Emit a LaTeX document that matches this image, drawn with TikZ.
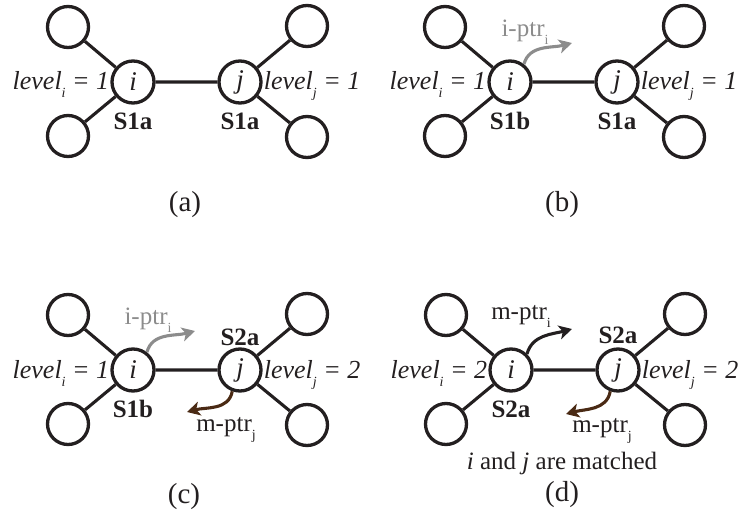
\documentclass[tikz,border=0pt]{standalone}
\usepackage{fontspec}
\setmainfont{Liberation Serif}
\usetikzlibrary{arrows.meta}
\definecolor{ink}{HTML}{231F20}
\definecolor{ptrgray}{HTML}{8C8C8C}
\definecolor{ptrbrown}{HTML}{4A2A14}
\newcommand\lowsub[1]{\raisebox{-8pt}{\fontsize{14}{14}\selectfont #1}}
\newcommand\basepanel[2]{%
  \node[vtx] (i) at (0,0) {i};
  \node[vtx] (j) at (107,0) {j};
  \node[leaf] (ul) at (-65,55) {};
  \node[leaf] (ll) at (-65,-54) {};
  \node[leaf] (ur) at (174,56) {};
  \node[leaf] (lr) at (174,-55) {};
  \draw[edge] (i) -- (j) (i) -- (ul) (i) -- (ll) (j) -- (ur) (j) -- (lr);
  \node[lvl,anchor=base east] (li) at ([yshift=-8pt]i.west) {level\lowsub{\textit{i}} = #1};
  \node[lvl,anchor=base west] (lj) at ([yshift=-8pt]j.east) {level\lowsub{\textit{j}} = #2};
}
\begin{document}
\begin{tikzpicture}[x=1pt,y=1pt,
  vtx/.style={circle,draw=ink,line width=3.3pt,minimum size=42pt,inner sep=0pt,font=\fontsize{27}{30}\selectfont\itshape,text=ink},
  leaf/.style={circle,draw=ink,line width=3.3pt,minimum size=41pt,inner sep=0pt},
  edge/.style={draw=ink,line width=3.1pt},
  lvl/.style={font=\fontsize{26}{30}\selectfont\itshape,text=ink,inner sep=1pt},
  st/.style={font=\fontsize{25}{28}\selectfont\bfseries,text=ink,inner sep=0pt},
  ptr/.style={line width=3.1pt,-{Stealth[length=13pt,width=14pt,inset=3.5pt]}},
  ptrlbl/.style={font=\fontsize{25}{28}\selectfont,inner sep=0pt},
  captxt/.style={font=\fontsize{29}{32}\selectfont,text=ink,inner sep=0pt}
]
\useasboundingbox (0,0) rectangle (738,-516);

% (a)
\begin{scope}[shift={(133,-82)},name prefix=a-]
  \basepanel{1}{1}
  \node[st] (si) at (0,-39) {S1a};
  \node[st] (sj) at (107,-39) {S1a};
\end{scope}

% (b)
\begin{scope}[shift={(510,-82)},name prefix=b-]
  \basepanel{1}{1}
  \node[st] (si) at (0,-39) {S1b};
  \node[st] (sj) at (107,-39) {S1a};
  \coordinate (ti) at (62,39);
  \draw[ptr,color=ptrgray] (i.52) to[out=75,in=195] (ti);
  \node[ptrlbl,text=ptrgray] (pi) at (15,50) {i-ptr\lowsub{i}};
\end{scope}

% (c)
\begin{scope}[shift={(133,-370)},name prefix=c-]
  \basepanel{1}{2}
  \node[st] (si) at (0,-39) {S1b};
  \node[st] (sj) at (107,33) {S2a};
  \coordinate (ti) at (62,39);
  \draw[ptr,color=ptrgray] (i.52) to[out=75,in=195] (ti);
  \node[ptrlbl,text=ptrgray] (pi) at (15,50) {i-ptr\lowsub{i}};
  \coordinate (tj) at (54,-42);
  \draw[ptr,color=ptrbrown] (j.250) to[out=-100,in=15] (tj);
  \node[ptrlbl,text=ink] (pj) at (93,-60) {m-ptr\lowsub{j}};
\end{scope}

% (d)
\begin{scope}[shift={(511,-370)},name prefix=d-]
  \basepanel{2}{2}
  \node[st] (si) at (0,-39) {S2a};
  \node[st] (sj) at (107,35) {S2a};
  \coordinate (ti) at (61,41);
  \draw[ptr,color=ink] (i.45) to[out=75,in=195] (ti);
  \node[ptrlbl,text=ink] (pi) at (10,54) {m-ptr\lowsub{i}};
  \coordinate (tj) at (55,-44);
  \draw[ptr,color=ptrbrown] (j.250) to[out=-100,in=15] (tj);
  \node[ptrlbl,text=ink] (pj) at (91,-61) {m-ptr\lowsub{j}};
  \node[ptrlbl,text=ink] (mt) at (51,-93) {\textit{i} and \textit{j} are matched};
\end{scope}

\node[captxt] (capa) at (185,-205) {(a)};
\node[captxt] (capb) at (562,-205) {(b)};
\node[captxt] (capc) at (184,-497) {(c)};
\node[captxt] (capd) at (562,-495) {(d)};
\end{tikzpicture}
\end{document}
